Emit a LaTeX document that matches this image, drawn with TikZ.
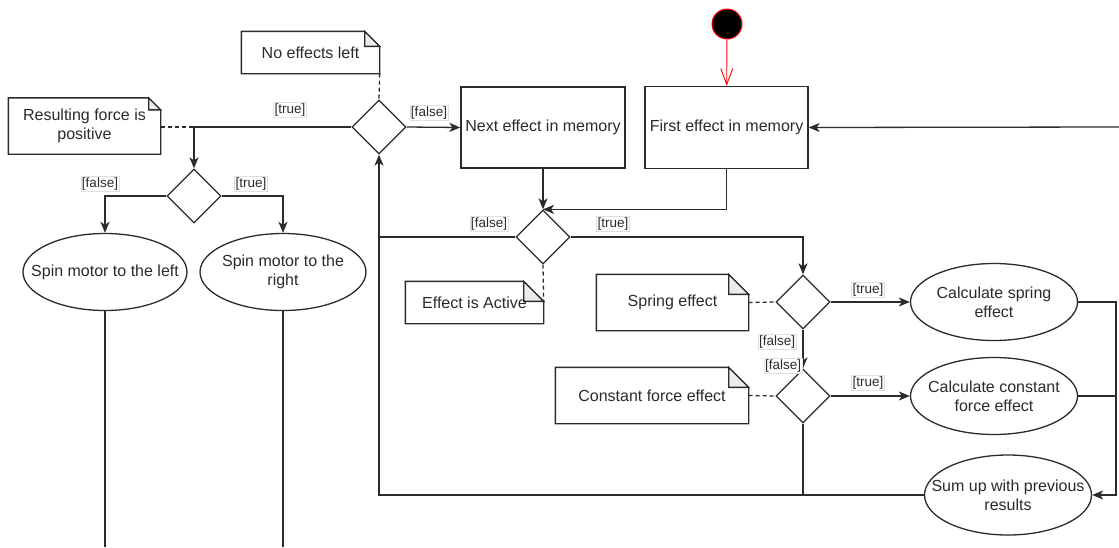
\documentclass[tikz,border=0pt]{standalone}
\usepackage{fontspec}
\setmainfont{Liberation Sans}
\usetikzlibrary{shapes.geometric,arrows.meta,backgrounds}
\definecolor{ink}{HTML}{2B2B2B}
\tikzset{
  base/.style={font=\fontsize{16}{19}\selectfont, text=ink, align=center},
  box/.style={base, draw=ink, fill=white, inner sep=0pt},
  dec/.style={diamond, aspect=1, draw=ink, fill=white, inner sep=0pt,
    minimum width=54pt, minimum height=54pt},
  act/.style={ellipse, draw=ink, fill=white, inner sep=0pt,
    minimum width=166pt, minimum height=77pt},
  txt/.style={base, inner sep=0pt},
  notetext/.style={base, inner sep=0pt},
  notebody/.style={draw=ink, fill=white, line width=1.3pt},
  notefold/.style={draw=ink, fill=gray!15, line width=1.3pt},
  guard/.style={font=\fontsize{13.5}{14}\selectfont, text=ink, fill=white,
    draw=gray!25, line width=0.6pt, inner sep=1pt},
  flow/.style={draw=ink, line width=1.3pt},
  link/.style={draw=ink, line width=1.3pt, dashed, dash pattern=on 4pt off 3pt},
  startnode/.style={circle, fill=black, draw=red, line width=1pt,
    minimum size=30pt, inner sep=0pt},
}
% dog-eared note outline around a named node: #1 name, #2 fold size
\newcommand\foldnote[2]{%
  \begin{scope}[on background layer]
    \path[notebody] (#1.south west) -- (#1.north west)
      -- ([xshift=-#2pt]#1.north east) -- ([yshift=-#2pt]#1.north east)
      -- (#1.south east) -- cycle;
    \path[notefold] ([xshift=-#2pt]#1.north east)
      -- ([xshift=-#2pt,yshift=-#2pt]#1.north east)
      -- ([yshift=-#2pt]#1.north east) -- cycle;
  \end{scope}}
\begin{document}
\begin{tikzpicture}[x=1pt,y=-1pt, line width=1.3pt,
  >={Stealth[length=11pt,width=9pt,inset=3pt]}]
\useasboundingbox (0,0) rectangle (1119,547);

% free ends of connectors
\coordinate (bot) at (0,547);
\coordinate (rt) at (1116,0);
\coordinate (loopin) at (1119,127);

% start and actions
\node[startnode] (start) at (727,24) {};
\node[box, minimum width=163pt, minimum height=82pt] (first) at (726.5,127.5) {First effect in memory};
\node[box, minimum width=164pt, minimum height=81pt] (next) at (543,127.5) {Next effect in memory};

% decisions
\node[dec] (d1) at (379,127) {};
\node[dec] (d2) at (194,196) {};
\node[dec] (d3) at (543,237) {};
\node[dec] (d4) at (803,302) {};
\node[dec] (d5) at (803,396) {};

% activities
\node[act, minimum width=164pt] (left) at (105,272) {};
\node[txt] (leftt) at (left) {Spin motor to the left};
\node[act] (right) at (283,272) {};
\node[txt] (rightt) at (right) {Spin motor to the\\right};
\node[act, minimum width=167pt] (spring) at (994,302) {};
\node[txt] (springt) at (spring) {Calculate spring\\effect};
\node[act, minimum width=167pt] (const) at (994,396) {};
\node[txt] (constt) at (const) {Calculate constant\\force effect};
\node[act, minimum width=167pt, minimum height=80pt] (sum) at (1008,495) {};
\node[txt] (sumt) at (sum) {Sum up with previous\\results};

% notes
\node[notetext, minimum width=137pt, minimum height=41pt] (noeff) at (310.5,52.5) {No effects left};
\foldnote{noeff}{15}
\node[notetext, minimum width=151pt, minimum height=55pt] (resforce) at (84.5,126) {Resulting force is\\positive};
\foldnote{resforce}{12}
\node[notetext, minimum width=137pt, minimum height=41pt] (active) at (474.5,302.5) {Effect is Active};
\foldnote{active}{20}
\node[notetext, minimum width=151pt, minimum height=55pt] (springnote) at (672.5,302.5) {Spring effect};
\foldnote{springnote}{20}
\node[notetext, minimum width=192pt, minimum height=55pt] (constnote) at (652,395.5) {Constant force effect};
\foldnote{constnote}{20}

% connectors
\draw[red, line width=0.9pt, -{Straight Barb[length=16pt,width=12pt]}] (start) -- (first);
\draw[flow, ->] (loopin) -- (first.east);
\draw[flow, ->] (d1.east) -- (next.west);
\draw[flow, ->] (d1.west) -| (d2.north);
\draw[flow, ->] (d2.west) -| (left.north);
\draw[flow, ->] (d2.east) -| (right.north);
\draw[flow] (left.south) -- (left.south |- bot);
\draw[flow] (right.south) -- (right.south |- bot);
\draw[flow, ->] (next.south) -- (d3.north);
\draw[flow, ->] (first.south) |- (d3.north);
\draw[flow] (d3.west) -- (d3.west -| d1.south);
\draw[flow, ->] (d3.east) -| (d4.north);
\draw[flow, ->] (d4.south) -- (d5.north);
\draw[flow, ->] (d4.east) -- (spring.west);
\draw[flow, ->] (d5.east) -- (const.west);
\draw[flow] (d5.south) -- (d5.south |- sum.west);
\draw[flow, ->] (sum.west) -| (d1.south);
\draw[flow, ->] (spring.east) -- (spring.east -| rt) |- (sum.east);
\draw[flow] (const.east) -- (const.east -| rt);

% note anchors
\draw[link] (noeff.south east) -- (d1.north);
\draw[link] (resforce.east |- d1.west) -- (d2.north |- d1.west);
\draw[link] (d3.south) -- (active.east);
\draw[link] (springnote.east) -- (d4.west);
\draw[link] (constnote.east) -- (d5.west);

% guards
\node[guard] (g1) at (429,113) {[false]};
\node[guard] (g2) at (290,110) {[true]};
\node[guard] (g3) at (100,184) {[false]};
\node[guard] (g4) at (251,184) {[true]};
\node[guard] (g5) at (489,224) {[false]};
\node[guard] (g6) at (613,224) {[true]};
\node[guard] (g7) at (777,342) {[false]};
\node[guard] (g8) at (783,366) {[false]};
\node[guard] (g9) at (868,290) {[true]};
\node[guard] (g10) at (868,383) {[true]};
\end{tikzpicture}
\end{document}
